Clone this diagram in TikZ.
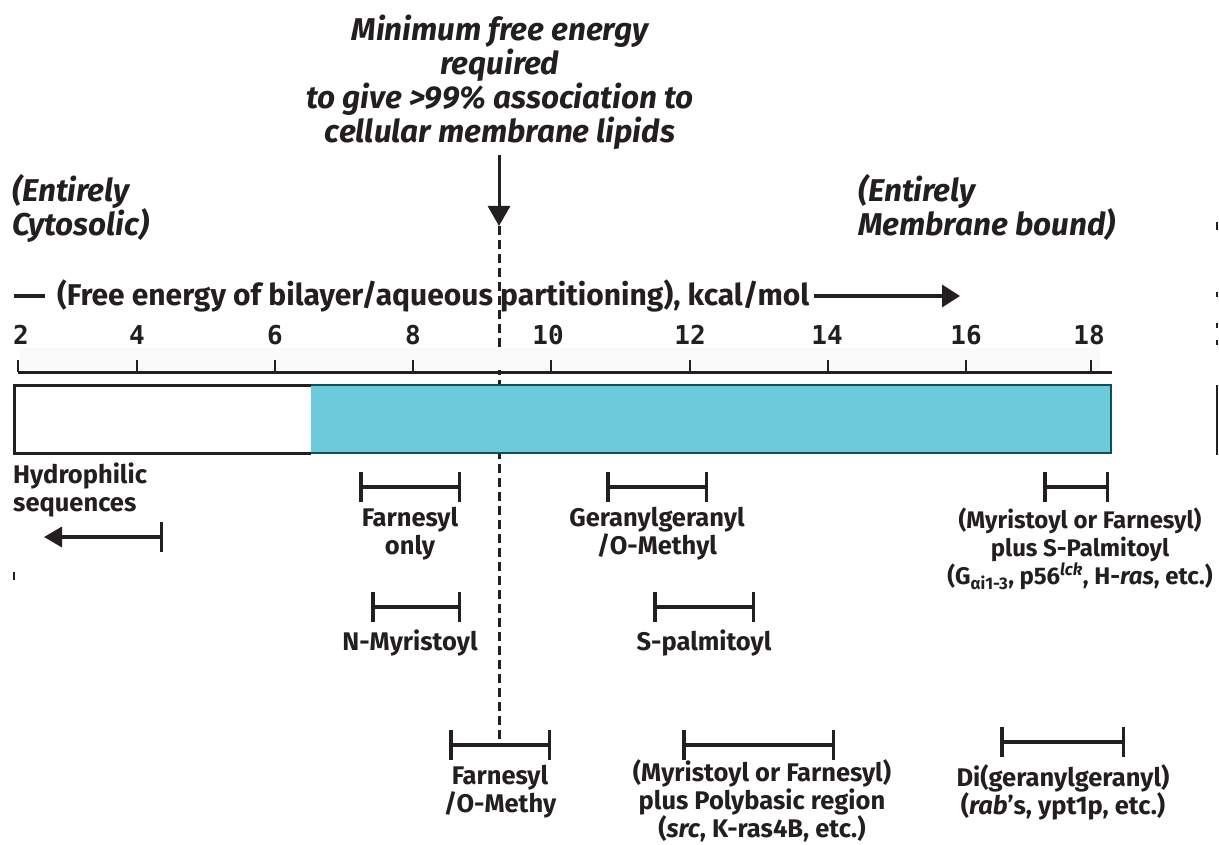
\documentclass[tikz,border=0pt]{standalone}
\usepackage{fontspec}
\setmainfont{Fira Sans}
\newfontfamily\digitfont{DejaVu Sans Mono}
\usetikzlibrary{arrows.meta}
\definecolor{ink}{HTML}{231F20}
\definecolor{barcyan}{HTML}{6CCADB}
\definecolor{bartealedge}{HTML}{0F4F57}
\tikzset{
  lbl/.style={font=\bfseries\fontsize{25.5}{28}\selectfont, text=ink, align=center, inner sep=0pt},
  axlbl/.style={font=\bfseries\fontsize{30}{32}\selectfont, text=ink, inner sep=0pt},
  ttl/.style={font=\bfseries\itshape\fontsize{31.5}{34}\selectfont, text=ink, align=center, inner sep=0pt},
  dig/.style={font=\digitfont\bfseries\fontsize{26}{28}\selectfont, text=ink, inner sep=0pt},
  rng/.style={draw=ink, line width=3.5pt, {Bar[width=30pt]}-{Bar[width=30pt]}},
  axtick/.style={draw=ink, line width=1.5pt},
  edgemark/.style={draw=ink, line width=2.5pt},
}
\begin{document}
\begin{tikzpicture}[x=1pt,y=-1pt]
\useasboundingbox[fill=white] (0,0) rectangle (1219,845);

% title
\node[ttl] (title) at (500,82) {Minimum free energy\\required\\to give >99\% association to\\cellular membrane lipids};
\coordinate (thr) at (499,226);
\coordinate (thrend) at (499,746);
\draw[draw=ink, line width=3pt, -{Triangle[length=20pt,width=22pt]}] (499,155) -- (thr);
\draw[draw=ink, line width=3pt, dash pattern=on 9pt off 5pt] (thr) -- (thrend);

% sides
\node[ttl, align=left, anchor=north west] (cyto) at (12,174) {(Entirely\\Cytosolic)};
\node[ttl, align=left, anchor=north west] (memb) at (858,174) {(Entirely\\Membrane bound)};

% axis title
\coordinate (dash1) at (14,296);
\coordinate (dash2) at (45,296);
\draw[draw=ink, line width=3.5pt] (dash1) -- (dash2);
\node[axlbl, anchor=west] (axt) at (57,296) {(Free energy of bilayer/aqueous partitioning), kcal/mol};
\coordinate (axarr) at (960,296);
\draw[draw=ink, line width=3.5pt, -{Triangle[length=18pt,width=22pt]}] (axt.east) ++(4pt,0) -- (axarr);

% axis
\fill[black!2] (20,348) rectangle (1100,370);
\draw[draw=ink, line width=3pt] (18,372) -- (1112,372);
\foreach \x in {18,137,275,413,551,690,828,966,1091}{
  \draw[axtick] (\x,372) -- (\x,360);
}
\foreach \x/\t in {21/2,137/4,275/6,413/8,548/10,690/12,827/14,966/16,1089/18}{
  \node[dig] at (\x,335) {\t};
}

% bar
\fill[white] (14,385) rectangle (311,453);
\fill[barcyan] (311,385) rectangle (1111,453);
\draw[draw=bartealedge, line width=2pt] (311,385) -- (1111,385) -- (1111,453) -- (311,453);
\draw[draw=ink, line width=3pt] (311,385) -- (14,385) -- (14,453) -- (311,453);

% hydrophilic
\node[lbl, align=left, anchor=north west] (hyd) at (13,463) {Hydrophilic\\sequences};
\coordinate (hyd1) at (163,537);
\coordinate (hyd2) at (44,537);
\draw[draw=ink, line width=3.5pt, {Bar[width=30pt]}-{Triangle[length=18pt,width=20pt]}] (hyd1) -- (hyd2);

% ranges
\coordinate (fo1) at (359,487); \coordinate (fo2) at (461,487);
\draw[rng] (fo1) -- (fo2);
\node[lbl] (fo) at (410,534) {Farnesyl\\only};

\coordinate (nm1) at (371,607); \coordinate (nm2) at (461,607);
\draw[rng] (nm1) -- (nm2);
\node[lbl] (nm) at (410,643) {N-Myristoyl};

\coordinate (fm1) at (449,745); \coordinate (fm2) at (551,745);
\draw[rng] (fm1) -- (fm2);
\node[lbl] (fm) at (500,792) {Farnesyl\\/O-Methy};

\coordinate (gg1) at (606,487); \coordinate (gg2) at (708,487);
\draw[rng] (gg1) -- (gg2);
\node[lbl] (gg) at (657,534) {Geranylgeranyl\\/O-Methyl};

\coordinate (sp1) at (653,607); \coordinate (sp2) at (755,607);
\draw[rng] (sp1) -- (sp2);
\node[lbl] (sp) at (704,643) {S-palmitoyl};

\coordinate (pb1) at (682,745); \coordinate (pb2) at (835,745);
\draw[rng] (pb1) -- (pb2);
\node[lbl] (pb) at (762,801) {(Myristoyl or Farnesyl)\\plus Polybasic region\\(\textit{src}, K-ras4B, etc.)};

\coordinate (ms1) at (1043,487); \coordinate (ms2) at (1109,487);
\draw[rng] (ms1) -- (ms2);
\node[lbl, font=\bfseries\fontsize{24}{28}\selectfont] (ms) at (1080,549) {(Myristoyl or Farnesyl)\\plus S-Palmitoyl\\(G\textsubscript{αi1-3}, p56\textsuperscript{\textit{lck}}, H-\textit{ras}, etc.)};

\coordinate (dg1) at (1000,742); \coordinate (dg2) at (1125,742);
\draw[rng] (dg1) -- (dg2);
\node[lbl] (dg) at (1063,792) {Di(geranylgeranyl)\\(\textit{rab}'s, ypt1p, etc.)};

% stray edge marks
\draw[edgemark] (1217,222) -- (1217,230);
\draw[edgemark] (1217,292) -- (1217,297);
\draw[edgemark] (1217,323) -- (1217,328);
\draw[edgemark] (1217,340) -- (1217,345);
\draw[draw=ink, line width=2pt] (1217,385) -- (1217,455);
\draw[edgemark] (14,572) -- (14,580);
\end{tikzpicture}
\end{document}
